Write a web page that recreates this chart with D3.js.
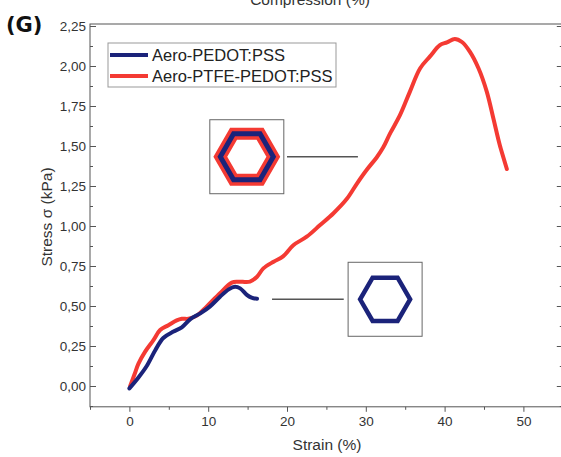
<!DOCTYPE html>
<html>
<head>
<meta charset="utf-8">
<script src="https://cdn.jsdelivr.net/npm/d3@7"></script>
<style>
  body { margin: 0; background: #fff; }
  svg { display: block; font-family: "Liberation Sans", Arial, sans-serif; }
</style>
</head>
<body>
<svg id="chart" width="561" height="457"></svg>
<script>
// stress-strain curves, strain in %, stress in kPa
const pedotStrain = [0, 1.1, 2.2, 3.3, 4.3, 5.6, 6.65, 7.7, 9.0, 10.2, 11.5, 12.6, 13.4, 14.05, 14.9, 15.5, 16.2];
const pedotStress = [-0.015, 0.05, 0.125, 0.225, 0.3, 0.34, 0.367, 0.417, 0.454, 0.496, 0.558, 0.604, 0.62, 0.61, 0.57, 0.552, 0.545];

const ptfeStrain = [0.1, 0.7, 1.15, 2.0, 3.05, 3.9, 4.95, 6.0, 6.65, 7.5, 8.55, 9.8, 11.5, 13.0, 13.8, 15.3, 16.2, 17.0, 18.3, 19.5,
  20.8, 22.5, 24.2, 25.9, 27.6, 28.9, 30.1, 31.4, 32.2, 33.1, 34.35, 35.6, 36.9, 38.15, 39.4, 40.3, 41.3, 42.2, 43.2, 44.3,
  45.35, 46.2, 47.0, 47.9];
const ptfeStress = [0, 0.08, 0.14, 0.215, 0.287, 0.35, 0.38, 0.41, 0.42, 0.42, 0.44, 0.496, 0.58, 0.646, 0.652, 0.652, 0.683, 0.735, 0.777, 0.81,
  0.88, 0.933, 1.006, 1.08, 1.17, 1.267, 1.35, 1.43, 1.49, 1.58, 1.694, 1.84, 1.986, 2.06, 2.13, 2.148, 2.169, 2.15, 2.09, 1.986,
  1.84, 1.67, 1.506, 1.356];

const seriesNames = ["Aero-PEDOT:PSS", "Aero-PTFE-PEDOT:PSS"];
const seriesColors = ["#1b237a", "#f43a33"];

const xTicks = [0, 10, 20, 30, 40, 50];
const xMinor = [-5, 5, 15, 25, 35, 45, 55];
const yTicks = [0, 0.25, 0.5, 0.75, 1, 1.25, 1.5, 1.75, 2, 2.25];
const yMinor = [-0.125, 0.125, 0.375, 0.625, 0.875, 1.125, 1.375, 1.625, 1.875, 2.125];

// hexagon sketches: center in data units, connector from/to in strain
const insetCenterX = [14.9, 32.45];
const insetCenterY = [1.433, 0.542];
const connectorFrom = [20.0, 18.1];
const connectorTo = [29.0, 27.2];

const svg = d3.select("#chart");
const plotLeft = 90, plotRight = 562.8, plotTop = 24, plotBottom = 406.8;

const x = d3.scaleLinear().domain([-5, 55]).range([plotLeft, plotRight]);
const y = d3.scaleLinear().domain([-0.13, 2.2625]).range([plotBottom, plotTop]);
const fmt = d => d3.format(".2f")(d).replace(".", ",");
const axisColor = "#555";

// frame
svg.append("rect")
  .attr("x", plotLeft).attr("y", plotTop)
  .attr("width", plotRight - plotLeft).attr("height", plotBottom - plotTop)
  .attr("fill", "none").attr("stroke", axisColor).attr("stroke-width", 1);

// bottom axis (ticks outward)
svg.append("g").attr("transform", `translate(0,${plotBottom})`)
  .call(d3.axisBottom(x).tickValues(xTicks).tickSize(5).tickPadding(5).tickFormat(d3.format("d")));
svg.append("g").attr("transform", `translate(0,${plotBottom})`)
  .call(d3.axisBottom(x).tickValues(xMinor).tickSize(3).tickFormat(""));

// left axis (ticks inward)
svg.append("g").attr("transform", `translate(${plotLeft},0)`)
  .call(d3.axisLeft(y).tickValues(yTicks).tickSize(-6).tickPadding(4).tickFormat(fmt));
svg.append("g").attr("transform", `translate(${plotLeft},0)`)
  .call(d3.axisLeft(y).tickValues(yMinor).tickSize(-3).tickFormat(""));

// right axis (ticks inward, no labels)
svg.append("g").attr("transform", `translate(${plotRight},0)`)
  .call(d3.axisRight(y).tickValues(yTicks).tickSize(-6).tickFormat(""));
svg.append("g").attr("transform", `translate(${plotRight},0)`)
  .call(d3.axisRight(y).tickValues(yMinor).tickSize(-3).tickFormat(""));

svg.selectAll(".domain").remove();
svg.selectAll(".tick line").attr("stroke", axisColor);
svg.selectAll(".tick text").attr("fill", "#333").attr("font-size", 13.5)
  .attr("font-family", "Liberation Sans, Arial, sans-serif");

// axis titles
svg.append("text").attr("x", 327).attr("y", 450).attr("text-anchor", "middle")
  .attr("font-size", 15.5).attr("fill", "#333").text("Strain (%)");
svg.append("text").attr("transform", "translate(52,217) rotate(-90)").attr("text-anchor", "middle")
  .attr("font-size", 15.5).attr("fill", "#333").text("Stress σ (kPa)");
svg.append("text").attr("x", 310).attr("y", 5).attr("text-anchor", "middle")
  .attr("font-size", 15.5).attr("fill", "#333").text("Compression (%)");
svg.append("text").attr("x", 6).attr("y", 32)
  .attr("font-family", "DejaVu Sans, sans-serif").attr("font-weight", "bold")
  .attr("font-size", 21).attr("fill", "#111").text("(G)");

// curves
const line = d3.line().x(d => x(d[0])).y(d => y(d[1])).curve(d3.curveCatmullRom);
const series = [
  d3.zip(pedotStrain, pedotStress),
  d3.zip(ptfeStrain, ptfeStress)
];
svg.append("path").datum(series[1])
  .attr("d", line).attr("fill", "none").attr("stroke", seriesColors[1])
  .attr("stroke-width", 4).attr("stroke-linecap", "round").attr("stroke-linejoin", "round");
svg.append("path").datum(series[0])
  .attr("d", line).attr("fill", "none").attr("stroke", seriesColors[0])
  .attr("stroke-width", 4).attr("stroke-linecap", "round").attr("stroke-linejoin", "round");

// legend
const legend = svg.append("g").attr("transform", "translate(108,43)");
legend.append("rect").attr("width", 228).attr("height", 44)
  .attr("fill", "#fff").attr("stroke", "#999").attr("stroke-width", 1);
seriesNames.forEach((name, i) => {
  const ly = 12 + i * 21;
  legend.append("line").attr("x1", 2).attr("x2", 40).attr("y1", ly).attr("y2", ly)
    .attr("stroke", seriesColors[i]).attr("stroke-width", 4);
  legend.append("text").attr("x", 44).attr("y", ly + 6)
    .attr("font-size", 16.5).attr("fill", "#222").text(name);
});

// hexagon sketches with connector lines
const hexPoints = r => d3.range(6).map(k => [r * Math.cos(k * Math.PI / 3), r * Math.sin(k * Math.PI / 3)]);
const hex = d3.line().curve(d3.curveLinearClosed);

insetCenterX.forEach((cx, i) => {
  const px = x(cx), py = y(insetCenterY[i]);
  svg.append("line")
    .attr("x1", x(connectorFrom[i])).attr("x2", x(connectorTo[i]))
    .attr("y1", py).attr("y2", py)
    .attr("stroke", "#555").attr("stroke-width", 1.5);
  const g = svg.append("g").attr("transform", `translate(${px},${py})`);
  g.append("rect").attr("x", -37).attr("y", -37).attr("width", 74).attr("height", 74)
    .attr("fill", "#fff").attr("stroke", "#666").attr("stroke-width", 1);
  if (i === 0) {
    g.append("path").attr("d", hex(hexPoints(26.5))).attr("fill", "none")
      .attr("stroke", seriesColors[1]).attr("stroke-width", 12).attr("stroke-linejoin", "miter");
    g.append("path").attr("d", hex(hexPoints(26.5))).attr("fill", "none")
      .attr("stroke", seriesColors[0]).attr("stroke-width", 5).attr("stroke-linejoin", "miter");
  } else {
    g.append("path").attr("d", hex(hexPoints(25))).attr("fill", "none")
      .attr("stroke", seriesColors[0]).attr("stroke-width", 4.5).attr("stroke-linejoin", "miter");
  }
});
</script>
</body>
</html>
